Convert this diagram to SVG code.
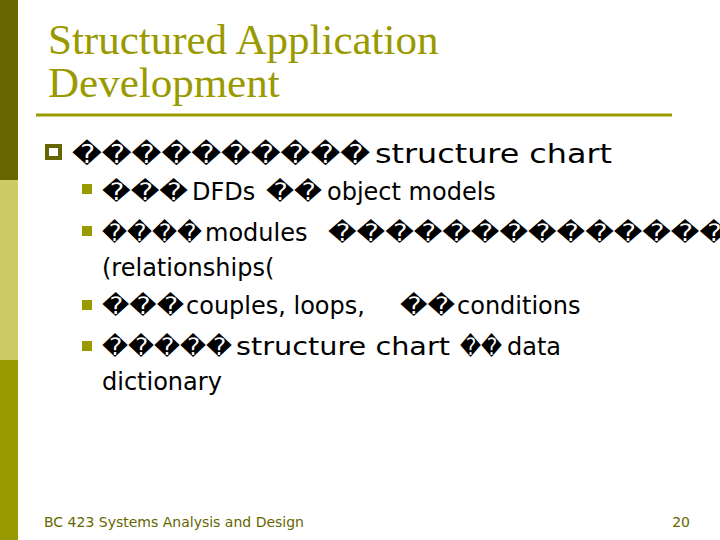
<svg xmlns="http://www.w3.org/2000/svg" width="720" height="540" viewBox="0 0 720 540">
<style>
.b{font-family:"DejaVu Sans",Verdana,sans-serif;font-size:24px;fill:#000}
.l1{font-size:26px}
.bul{fill:#999900}
</style>
<rect width="720" height="540" fill="#fff"/>
<rect x="0" y="0" width="18" height="180" fill="#666600"/>
<rect x="0" y="180" width="18" height="180" fill="#cccc66"/>
<rect x="0" y="360" width="18" height="180" fill="#999900"/>
<g id="title" font-family="Liberation Serif,serif" font-size="43" fill="#999900">
<text x="48" y="54">Structured Application</text>
<text x="48" y="97">Development</text>
</g>
<line x1="36" y1="115" x2="672" y2="115" stroke="#999900" stroke-width="3"/>
<rect x="47" y="146" width="13" height="12" fill="none" stroke="#666600" stroke-width="4"/>
<g class="bul">
<rect x="82" y="184" width="10" height="10"/>
<rect x="82" y="226" width="10" height="10"/>
<rect x="82" y="300" width="10" height="10"/>
<rect x="82" y="341" width="10" height="10"/>
</g>
<g id="body" class="b">
<text class="b l1" x="72" y="163" textLength="298" lengthAdjust="spacingAndGlyphs">����������</text>
<text class="b l1" x="375" y="163" textLength="237" lengthAdjust="spacingAndGlyphs">structure chart</text>
<text x="102" y="200" textLength="86" lengthAdjust="spacingAndGlyphs">���</text><text x="192" y="200">DFDs</text><text x="266" y="200" textLength="56" lengthAdjust="spacingAndGlyphs">��</text><text x="327" y="200">object models</text>
<text x="102" y="241" textLength="100" lengthAdjust="spacingAndGlyphs">����</text><text x="205" y="241">modules</text><text x="328" y="241" textLength="400" lengthAdjust="spacingAndGlyphs">��������������</text>
<text x="102" y="276">(relationships(</text>
<text x="102" y="314" textLength="82" lengthAdjust="spacingAndGlyphs">���</text><text x="186" y="314">couples, loops,</text><text x="400" y="314" textLength="55" lengthAdjust="spacingAndGlyphs">��</text><text x="457" y="314">conditions</text>
<text x="102" y="355" textLength="130" lengthAdjust="spacingAndGlyphs">�����</text><text x="236" y="355" textLength="214" lengthAdjust="spacingAndGlyphs">structure chart</text><text x="460" y="355" textLength="42" lengthAdjust="spacingAndGlyphs">��</text><text x="507" y="355">data</text>
<text x="102" y="390">dictionary</text>
</g>
<g id="footer" font-family="DejaVu Sans,Verdana,sans-serif" font-size="14" fill="#666600">
<text x="44" y="527">BC 423 Systems Analysis and Design</text>
<text x="690" y="527" text-anchor="end">20</text>
</g>
</svg>
